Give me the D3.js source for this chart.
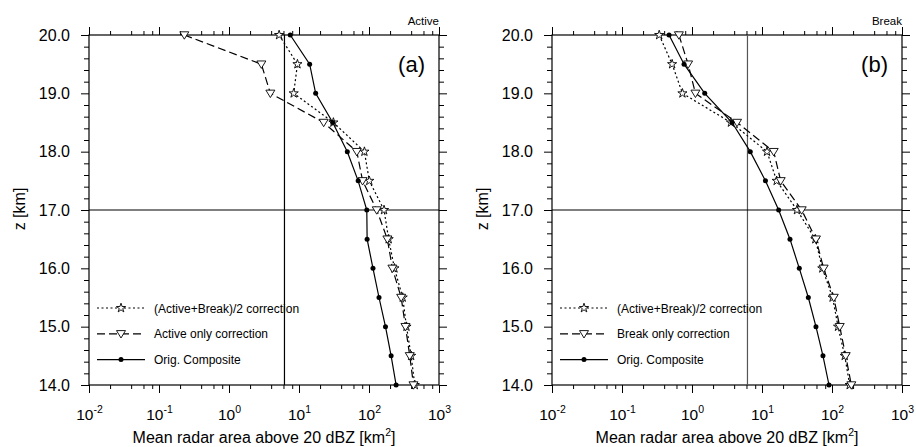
<!DOCTYPE html>
<html>
<head>
<meta charset="utf-8">
<script src="https://cdn.jsdelivr.net/npm/d3@7"></script>
<style>
  body { margin: 0; background: #fff; }
  svg text { font-family: "Liberation Sans", Arial, sans-serif; fill: #000; }
</style>
</head>
<body>
<svg id="chart" width="916" height="447"></svg>
<script>
// heights (km) shared by every profile
const heights = [20.0, 19.5, 19.0, 18.5, 18.0, 17.5, 17.0, 16.5, 16.0, 15.5, 15.0, 14.5, 14.0];

// panel (a): active
const activeOrig = [7.5, 14.2, 17.3, 30.3, 49, 70, 93, 94, 114, 139, 172, 207, 244];
const activeMean = [5.2, 9.5, 8.4, 31, 86, 101, 164, 191, 231, 303, 343, 400, 451];
const activeOnly = [0.23, 2.9, 3.9, 22.5, 67, 81, 129, 183, 216, 288, 332, 382, 432];

// panel (b): break
const breakOrig = [0.47, 0.77, 1.52, 3.73, 6.8, 11.2, 17.3, 25.1, 34.1, 45.9, 59, 74.3, 90.6];
const breakMean = [0.34, 0.52, 0.73, 3.6, 11.8, 16.2, 31.6, 57.8, 72.7, 102, 122, 152, 179];
const breakOnly = [0.65, 0.88, 1.12, 4.4, 14.7, 18.5, 36.9, 59, 76, 106, 129, 157, 189];

const xTickExps = [-2, -1, 0, 1, 2, 3];
const yTicks = [14, 15, 16, 17, 18, 19, 20];
const refArea = 6.2;   // vertical reference line
const refZ = 17.0;     // horizontal reference line

const svg = d3.select("#chart");

function drawPanel(opts) {
  const g = svg.append("g");
  const x = d3.scaleLog().domain([1e-2, 1e3]).range([opts.left, opts.right]);
  const y = d3.scaleLinear().domain([14, 20]).range([385, 35]);

  // minor ticks: NCL style, 2/4/6/8 per decade
  const minorX = [];
  xTickExps.slice(0, -1).forEach(e => [2, 4, 6, 8].forEach(m => minorX.push(m * Math.pow(10, e))));
  const minorY = d3.range(14, 20.001, 0.2).filter(v => Math.abs(v - Math.round(v)) > 1e-6);

  const axisStyle = a => a.call(s => s.select(".domain").remove())
    .call(s => s.selectAll("line").attr("stroke", "#000").attr("stroke-width", 1));

  // bottom
  g.append("g").attr("transform", "translate(0,385)")
    .call(d3.axisBottom(x).tickValues(minorX).tickSize(4).tickFormat(""))
    .call(axisStyle);
  const bot = g.append("g").attr("transform", "translate(0,385)")
    .call(d3.axisBottom(x).tickValues(xTickExps.map(e => Math.pow(10, e))).tickSize(8).tickFormat(""))
    .call(axisStyle);
  bot.selectAll(".tick").each(function (d, i) {
    const t = d3.select(this).append("text").attr("y", 35).attr("text-anchor", "middle")
      .style("font-size", "15.5px");
    t.append("tspan").text("10");
    t.append("tspan").attr("dy", -7).style("font-size", "10.5px").text(xTickExps[i]);
  });
  // top
  g.append("g").attr("transform", "translate(0,35)")
    .call(d3.axisTop(x).tickValues(minorX).tickSize(4).tickFormat(""))
    .call(axisStyle);
  g.append("g").attr("transform", "translate(0,35)")
    .call(d3.axisTop(x).tickValues(xTickExps.map(e => Math.pow(10, e))).tickSize(8).tickFormat(""))
    .call(axisStyle);
  // left
  g.append("g").attr("transform", "translate(" + opts.left + ",0)")
    .call(d3.axisLeft(y).tickValues(minorY).tickSize(5).tickFormat(""))
    .call(axisStyle);
  g.append("g").attr("transform", "translate(" + opts.left + ",0)")
    .call(d3.axisLeft(y).tickValues(yTicks).tickSize(8).tickPadding(11).tickFormat(d3.format(".1f")))
    .call(axisStyle)
    .call(s => s.selectAll("text").style("font-size", "16px").attr("fill", "#000"));
  // right
  g.append("g").attr("transform", "translate(" + opts.right + ",0)")
    .call(d3.axisRight(y).tickValues(minorY).tickSize(5).tickFormat(""))
    .call(axisStyle);
  g.append("g").attr("transform", "translate(" + opts.right + ",0)")
    .call(d3.axisRight(y).tickValues(yTicks).tickSize(8).tickFormat(""))
    .call(axisStyle);

  // frame
  g.append("rect").attr("x", opts.left).attr("y", 35)
    .attr("width", opts.right - opts.left).attr("height", 350)
    .attr("fill", "none").attr("stroke", "#000").attr("stroke-width", 1.2);

  // reference lines
  g.append("line").attr("x1", x(refArea)).attr("x2", x(refArea)).attr("y1", 35).attr("y2", 385)
    .attr("stroke", opts.refColor).attr("stroke-width", 1.2);
  g.append("line").attr("x1", opts.left).attr("x2", opts.right).attr("y1", y(refZ)).attr("y2", y(refZ))
    .attr("stroke", "#000").attr("stroke-width", 1.2);

  const star = d3.symbol().type(d3.symbolStar).size(26);
  const triPath = "M-4.5,-3.2L4.5,-3.2L0,4.2Z"; // hollow down-pointing triangle
  const series = [
    { vals: opts.mean, dash: "2,2.5", mark: "star", label: "(Active+Break)/2 correction" },
    { vals: opts.only, dash: "8,4", mark: "tri", label: opts.onlyLabel },
    { vals: opts.orig, dash: null, mark: "dot", label: "Orig. Composite" }
  ];

  const line = d3.line().x(d => x(d[0])).y(d => y(d[1]));

  function marker(sel, kind) {
    if (kind === "dot") {
      sel.append("circle").attr("r", 2.5).attr("fill", "#000");
    } else if (kind === "star") {
      sel.append("path").attr("d", star()).attr("fill", "#fff").attr("stroke", "#000").attr("stroke-width", 0.9);
    } else {
      sel.append("path").attr("d", triPath)
        .attr("fill", "#fff").attr("stroke", "#000").attr("stroke-width", 0.9);
    }
  }

  series.forEach(s => {
    const pts = s.vals.map((v, i) => [v, heights[i]]);
    g.append("path").datum(pts).attr("d", line)
      .attr("fill", "none").attr("stroke", "#000").attr("stroke-width", 1.2)
      .attr("stroke-dasharray", s.dash);
    g.selectAll(null).data(pts).enter().append("g")
      .attr("transform", d => "translate(" + x(d[0]) + "," + y(d[1]) + ")")
      .each(function () { marker(d3.select(this), s.mark); });
  });

  // legend
  const lx = opts.left + 8;
  series.forEach((s, i) => {
    const ly = 308 + i * 25.8;
    const lg = g.append("g");
    lg.append("line").attr("x1", lx).attr("x2", lx + 48).attr("y1", ly).attr("y2", ly)
      .attr("stroke", "#000").attr("stroke-width", 1.2).attr("stroke-dasharray", s.dash);
    marker(lg.append("g").attr("transform", "translate(" + (lx + 24) + "," + ly + ")"), s.mark);
    lg.append("text").attr("x", lx + 57).attr("y", ly + 4.5).style("font-size", "12px").text(s.label);
  });

  // labels
  g.append("text").attr("x", opts.right).attr("y", 25).attr("text-anchor", "end")
    .style("font-size", "11.5px").text(opts.title);
  g.append("text").attr("x", opts.right - 14).attr("y", 72).attr("text-anchor", "end")
    .style("font-size", "22px").text(opts.tag);
  const xl = g.append("text").attr("x", (opts.left + opts.right) / 2).attr("y", 443)
    .attr("text-anchor", "middle").style("font-size", "16px");
  xl.append("tspan").text("Mean radar area above 20 dBZ [km");
  xl.append("tspan").attr("dy", -7).style("font-size", "10.5px").text("2");
  xl.append("tspan").attr("dy", 7).text("]");
  g.append("text").attr("transform", "translate(" + (opts.left - 64) + ",209) rotate(-90)")
    .attr("text-anchor", "middle").style("font-size", "16px").text("z [km]");
}

drawPanel({ left: 89, right: 439, orig: activeOrig, mean: activeMean, only: activeOnly,
  onlyLabel: "Active only correction", title: "Active", tag: "(a)", refColor: "#000" });
drawPanel({ left: 552, right: 902, orig: breakOrig, mean: breakMean, only: breakOnly,
  onlyLabel: "Break only correction", title: "Break", tag: "(b)", refColor: "#555" });
</script>
</body>
</html>
